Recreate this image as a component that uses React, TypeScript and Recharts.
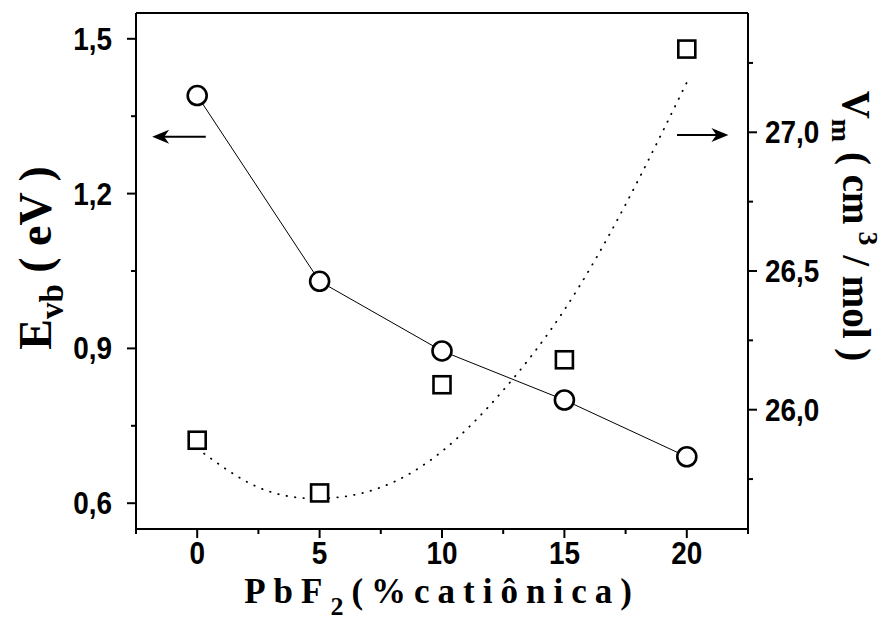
import React from 'react';
import { ComposedChart, Line, XAxis, YAxis, ReferenceLine } from 'recharts';

// PbF2 content (% cationic)
const composition = [0, 5, 10, 15, 20];
// band-gap energy E_vb (eV), left axis
const bandEnergy = [1.39, 1.03, 0.895, 0.8, 0.69];
// molar volume V_m (cm3/mol), right axis
const molarVolume = [25.89, 25.7, 26.09, 26.18, 27.3];
// dotted polynomial fit through the molar volume
const fitComposition = [0, 2.5, 5, 7.5, 10, 12.5, 15, 17.5, 20];
const fitVolume = [25.86, 25.72, 25.68, 25.72, 25.85, 26.07, 26.36, 26.74, 27.18];

const xDomain = [-2.5, 22.5];
const leftDomain = [0.55, 1.55];
const rightDomain = [25.57, 27.43];
const xTicks = [-2.5, 0, 2.5, 5, 7.5, 10, 12.5, 15, 17.5, 20, 22.5];
const xMajor = [0, 5, 10, 15, 20];
const leftTicks = [0.6, 0.75, 0.9, 1.05, 1.2, 1.35, 1.5];
const leftMajor = [0.6, 0.9, 1.2, 1.5];
const rightTicks = [25.75, 26.0, 26.25, 26.5, 26.75, 27.0, 27.25];
const rightMajor = [26.0, 26.5, 27.0];

const energyData = composition.map((x, i) => ({ x, e: bandEnergy[i] }));
const volumeData = composition.map((x, i) => ({ x, v: molarVolume[i] }));
const fitData = fitComposition.map((x, i) => ({ x, v: fitVolume[i] }));

const tickFont = "'Liberation Sans', Arial, sans-serif";
const titleFont = "'Liberation Serif', 'Times New Roman', serif";

const isMajor = (list: number[], v: number) => list.some((m) => Math.abs(m - v) < 1e-6);
const comma = (v: number, digits: number) => v.toFixed(digits).replace('.', ',');

// slightly condensed bold numbers
const TickText = ({ x, y, anchor, children }: any) => (
  <text
    transform={`translate(${x},${y}) scale(0.9,1)`}
    textAnchor={anchor}
    fontFamily={tickFont}
    fontWeight="bold"
    fontSize={31}
    fill="#000"
  >
    {children}
  </text>
);

const BottomTick = (props: any) => {
  const { x, y, payload } = props;
  const major = isMajor(xMajor, payload.value);
  return (
    <g>
      <line x1={x} x2={x} y1={y} y2={y + (major ? 9 : 5)} stroke="#000" strokeWidth={2} />
      {major && (
        <TickText x={x} y={y + 35} anchor="middle">
          {payload.value}
        </TickText>
      )}
    </g>
  );
};

const LeftTick = (props: any) => {
  const { x, y, payload } = props;
  const major = isMajor(leftMajor, payload.value);
  return (
    <g>
      <line x1={x - (major ? 9 : 5)} x2={x} y1={y} y2={y} stroke="#000" strokeWidth={2} />
      {major && (
        <TickText x={x - 24} y={y + 11} anchor="end">
          {comma(payload.value, 1)}
        </TickText>
      )}
    </g>
  );
};

const RightTick = (props: any) => {
  const { x, y, payload } = props;
  const major = isMajor(rightMajor, payload.value);
  return (
    <g>
      <line x1={x} x2={x + (major ? 9 : 5)} y1={y} y2={y} stroke="#000" strokeWidth={2} />
      {major && (
        <TickText x={x + 17} y={y + 11} anchor="start">
          {comma(payload.value, 1)}
        </TickText>
      )}
    </g>
  );
};

const Circle = (p: any) => (
  <circle key={`c-${p.index}`} cx={p.cx} cy={p.cy} r={9.5} fill="#fff" stroke="#000" strokeWidth={2.6} />
);

const Square = (p: any) => (
  <rect key={`s-${p.index}`} x={p.cx - 8.5} y={p.cy - 8.5} width={17} height={17} fill="#fff" stroke="#000" strokeWidth={2.6} />
);

// arrow from (x1,y1) to (x2,y2), head at the second point
const Arrow = (p: any) => {
  const { x1, y1, x2, y2 } = p;
  const dir = x2 > x1 ? 1 : -1;
  const tip = x2;
  const back = tip - dir * 17;
  return (
    <g>
      <line x1={x1} y1={y1} x2={tip - dir * 10} y2={y2} stroke="#000" strokeWidth={2} />
      <path
        d={`M${tip},${y2} L${back},${y2 - 7} L${tip - dir * 12},${y2} L${back},${y2 + 7} Z`}
        fill="#000"
      />
    </g>
  );
};

const XTitle = () => (
  <text x={442} y={603} textAnchor="middle" fontFamily={titleFont} fontWeight="bold" fontSize={35} letterSpacing={8} fill="#000">
    PbF
    <tspan fontSize={26} dy={12}>2</tspan>
    <tspan dy={-12}>(%catiônica)</tspan>
  </text>
);

const LeftTitle = () => (
  <text
    x={0}
    y={0}
    transform="translate(51,258) rotate(-90)"
    textAnchor="middle"
    fontFamily={titleFont}
    fontWeight="bold"
    fontSize={46}
    fill="#000"
  >
    E
    <tspan fontSize={33} dy={12}>vb</tspan>
    <tspan dy={-12}> ( eV )</tspan>
  </text>
);

const RightTitle = () => (
  <text
    x={0}
    y={0}
    transform="translate(843,226) rotate(90)"
    textAnchor="middle"
    fontFamily={titleFont}
    fontWeight="bold"
    fontSize={39}
    fill="#000"
  >
    V
    <tspan fontSize={28} dy={11}>m</tspan>
    <tspan dy={-11}> ( cm</tspan>
    <tspan fontSize={28} dy={-16}> 3</tspan>
    <tspan dy={16}> / mol )</tspan>
  </text>
);

export default function App() {
  return (
    <div style={{ position: 'absolute', left: 0, top: 0, background: '#fff' }}>
      <ComposedChart width={893} height={624} margin={{ top: 13, right: 65, bottom: 35, left: 56 }}>
        <XAxis
          type="number"
          dataKey="x"
          domain={xDomain}
          ticks={xTicks}
          interval={0}
          allowDataOverflow
          height={60}
          tickSize={0}
          tickMargin={0}
          tickLine={false}
          axisLine={{ stroke: '#000', strokeWidth: 2 }}
          tick={<BottomTick />}
          label={{ content: () => <XTitle /> }}
        />
        <YAxis
          yAxisId="left"
          type="number"
          domain={leftDomain}
          ticks={leftTicks}
          interval={0}
          allowDataOverflow
          width={80}
          tickSize={0}
          tickMargin={0}
          tickLine={false}
          axisLine={{ stroke: '#000', strokeWidth: 2 }}
          tick={<LeftTick />}
          label={{ content: () => <LeftTitle /> }}
        />
        <YAxis
          yAxisId="right"
          orientation="right"
          type="number"
          domain={rightDomain}
          ticks={rightTicks}
          interval={0}
          allowDataOverflow
          width={80}
          tickSize={0}
          tickMargin={0}
          tickLine={false}
          axisLine={{ stroke: '#000', strokeWidth: 2 }}
          tick={<RightTick />}
          label={{ content: () => <RightTitle /> }}
        />
        {/* top edge of the frame */}
        <ReferenceLine yAxisId="left" y={leftDomain[1]} stroke="#000" strokeWidth={2} />

        <Line
          data={fitData}
          yAxisId="right"
          dataKey="v"
          type="natural"
          stroke="#000"
          strokeWidth={1.8}
          strokeDasharray="0.5 8"
          strokeLinecap="round"
          dot={false}
          isAnimationActive={false}
        />
        <Line
          data={energyData}
          yAxisId="left"
          dataKey="e"
          type="linear"
          stroke="#000"
          strokeWidth={1}
          dot={Circle}
          isAnimationActive={false}
        />
        <Line
          data={volumeData}
          yAxisId="right"
          dataKey="v"
          stroke="none"
          dot={Square}
          isAnimationActive={false}
        />

        <ReferenceLine
          yAxisId="left"
          segment={[{ x: 0.35, y: 1.31 }, { x: -1.84, y: 1.31 }]}
          shape={Arrow}
        />
        <ReferenceLine
          yAxisId="right"
          segment={[{ x: 19.6, y: 26.99 }, { x: 21.7, y: 26.99 }]}
          shape={Arrow}
        />
      </ComposedChart>
    </div>
  );
}
